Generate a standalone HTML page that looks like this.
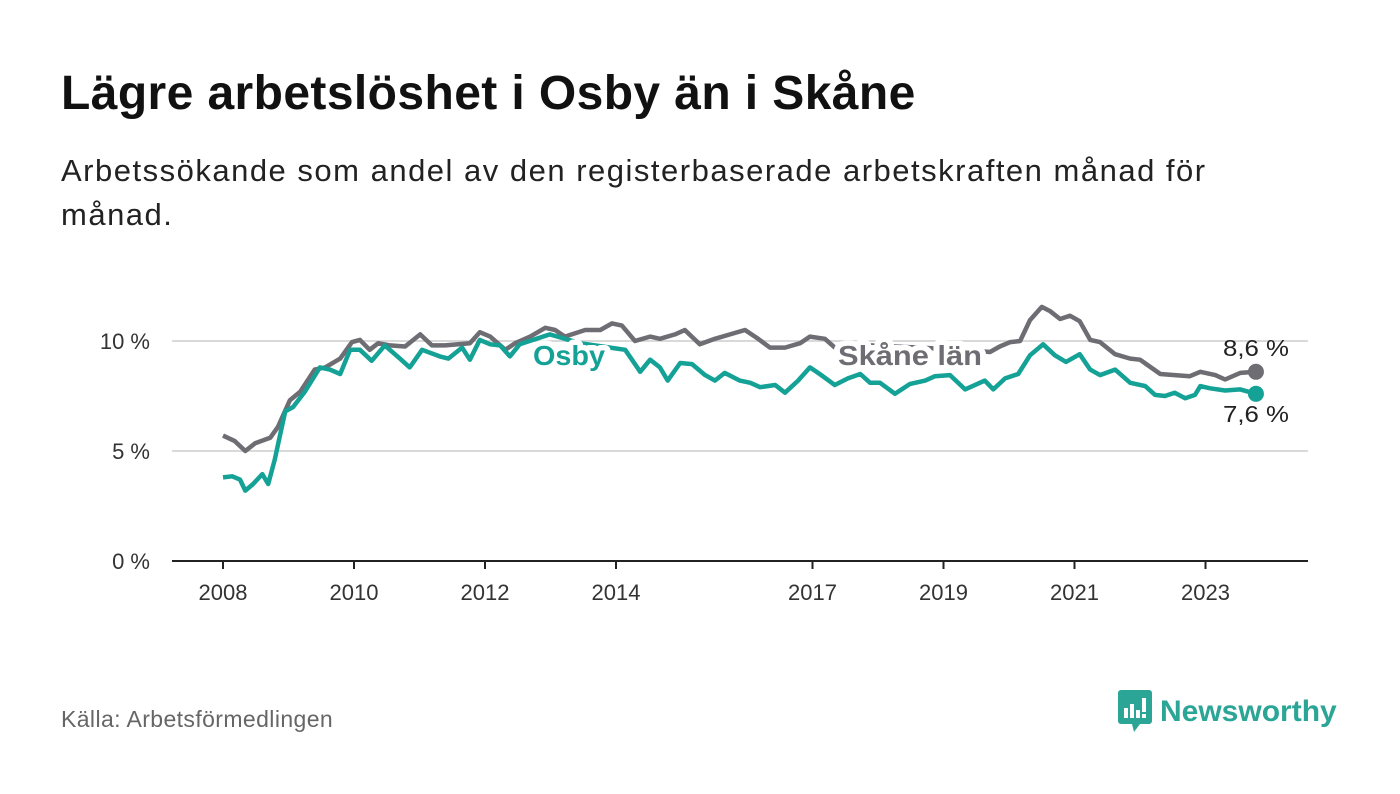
<!DOCTYPE html>
<html><head><meta charset="utf-8">
<style>
body{margin:0;background:#fff;width:1400px;height:794px;overflow:hidden;font-family:"Liberation Sans",sans-serif;color:#111}
h1{position:absolute;left:61px;top:66px;margin:0;font-size:48px;font-weight:bold;letter-spacing:0.4px}
.sub{position:absolute;left:61px;top:149px;width:1240px;font-size:31px;line-height:44px;color:#222;letter-spacing:1.5px}
.src{position:absolute;left:61px;top:706px;font-size:23px;color:#666;letter-spacing:0.4px}
.logo{position:absolute;left:1118px;top:690px;display:flex;align-items:center}
.logo span{font-size:30px;font-weight:bold;color:#2aa596;margin-left:8px}
svg#chart{position:absolute;left:0;top:0}
</style></head><body>
<h1>Lägre arbetslöshet i Osby än i Skåne</h1>
<div class="sub">Arbetssökande som andel av den registerbaserade arbetskraften månad för månad.</div>
<svg id="chart" width="1400" height="794"></svg>
<div class="src">Källa: Arbetsförmedlingen</div>
<div class="logo">
<svg width="34" height="44" viewBox="0 0 34 44"><rect x="0" y="0" width="34" height="34" rx="3" fill="#2aa596"/><polygon points="14,34 22,34 16,42" fill="#2aa596"/><rect x="6" y="18" width="4" height="10" fill="#fff"/><rect x="12" y="14" width="4" height="14" fill="#fff"/><rect x="18" y="20" width="4" height="8" fill="#fff"/><rect x="24" y="8" width="4" height="14" fill="#fff"/><rect x="24" y="24" width="4" height="4" fill="#fff"/></svg>
<span>Newsworthy</span></div>
<script>
const yTicks=[0,5,10];
const xTicks=[2008,2010,2012,2014,2017,2019,2021,2023];
const skaneDates=[2008.00,2008.18,2008.34,2008.49,2008.72,2008.84,2009.02,2009.18,2009.40,2009.56,2009.79,2009.97,2010.09,2010.24,2010.37,2010.55,2010.78,2011.01,2011.19,2011.39,2011.77,2011.92,2012.08,2012.31,2012.46,2012.69,2012.92,2013.07,2013.22,2013.53,2013.76,2013.94,2014.09,2014.29,2014.52,2014.67,2014.90,2015.05,2015.28,2015.51,2015.74,2015.97,2016.17,2016.35,2016.58,2016.81,2016.96,2017.19,2017.34,2017.88,2018.64,2019.25,2019.71,2019.86,2020.02,2020.17,2020.32,2020.50,2020.63,2020.78,2020.93,2021.08,2021.24,2021.39,2021.62,2021.85,2022.00,2022.31,2022.53,2022.76,2022.92,2023.15,2023.30,2023.53,2023.77];
const skaneValues=[5.7,5.45,5.0,5.35,5.6,6.1,7.3,7.7,8.7,8.8,9.2,9.95,10.05,9.6,9.9,9.8,9.75,10.3,9.8,9.8,9.9,10.4,10.2,9.6,9.9,10.2,10.6,10.5,10.2,10.5,10.5,10.8,10.7,10.0,10.2,10.1,10.3,10.5,9.85,10.1,10.3,10.5,10.1,9.7,9.7,9.9,10.2,10.1,9.7,9.8,9.7,9.6,9.5,9.75,9.95,10.0,10.95,11.55,11.35,11.0,11.15,10.9,10.05,9.95,9.4,9.2,9.15,8.5,8.45,8.4,8.6,8.45,8.25,8.55,8.6];
const osbyDates=[2008.00,2008.14,2008.26,2008.34,2008.46,2008.60,2008.69,2008.79,2008.95,2009.07,2009.25,2009.48,2009.63,2009.79,2009.94,2010.09,2010.27,2010.47,2010.70,2010.85,2011.04,2011.31,2011.44,2011.65,2011.77,2011.92,2012.08,2012.23,2012.38,2012.53,2012.99,2013.45,2013.91,2014.14,2014.37,2014.52,2014.67,2014.79,2014.98,2015.16,2015.36,2015.51,2015.66,2015.89,2016.05,2016.20,2016.43,2016.58,2016.78,2016.96,2017.11,2017.34,2017.54,2017.73,2017.88,2018.03,2018.26,2018.49,2018.72,2018.87,2019.10,2019.33,2019.63,2019.76,2019.94,2020.14,2020.32,2020.52,2020.70,2020.87,2021.08,2021.24,2021.39,2021.62,2021.85,2022.08,2022.23,2022.38,2022.53,2022.69,2022.84,2022.92,2023.07,2023.30,2023.53,2023.77];
const osbyValues=[3.8,3.85,3.7,3.2,3.5,3.95,3.5,4.6,6.8,7.0,7.7,8.8,8.7,8.5,9.6,9.6,9.1,9.8,9.2,8.8,9.6,9.3,9.2,9.7,9.15,10.05,9.85,9.8,9.3,9.85,10.3,9.9,9.7,9.6,8.6,9.15,8.8,8.2,9.0,8.95,8.45,8.2,8.55,8.2,8.1,7.9,8.0,7.65,8.2,8.8,8.5,8.0,8.3,8.5,8.1,8.1,7.6,8.05,8.2,8.4,8.45,7.8,8.2,7.8,8.3,8.5,9.35,9.85,9.35,9.05,9.4,8.7,8.45,8.7,8.1,7.95,7.55,7.5,7.65,7.4,7.55,7.95,7.85,7.75,7.8,7.6];
const NS="http://www.w3.org/2000/svg";
const svg=document.getElementById('chart');
const xS=t=>223+(t-2008)*65.5;
const yS=v=>561-v*22;
function mk(tag,attrs,parent){const e=document.createElementNS(NS,tag);for(const k in attrs)e.setAttribute(k,attrs[k]);(parent||svg).appendChild(e);return e;}
yTicks.forEach(v=>{
  if(v>0){const g=mk('line',{x1:172,x2:1308,y1:yS(v),y2:yS(v),stroke:'#d9d9d9','stroke-width':2});
  
  }
  const t=mk('text',{x:150,y:yS(v)+8,'text-anchor':'end','font-size':22,fill:'#333','font-family':'Liberation Sans, sans-serif'});
  t.textContent=v+' %';
  
  
});
const ax=mk('line',{x1:172,x2:1308,y1:561,y2:561,stroke:'#222','stroke-width':2});


xTicks.forEach(y=>{
  const tk=mk('line',{x1:xS(y),x2:xS(y),y1:561,y2:569,stroke:'#222','stroke-width':2});
  
  
  const t=mk('text',{x:xS(y),y:600,'text-anchor':'middle','font-size':22,fill:'#333','font-family':'Liberation Sans, sans-serif'});
  t.textContent=y;
  
  
});
function line(d,v,col,name){
  const p=mk('path',{d:d.map((t,i)=>(i?'L':'M')+xS(t).toFixed(1)+','+yS(v[i]).toFixed(1)).join(''),fill:'none',stroke:col,'stroke-width':4.5,'stroke-linejoin':'round'});
  
  
  const c=mk('circle',{cx:xS(d[d.length-1]),cy:yS(v[v.length-1]),r:8,fill:col});
  
  
}
line(skaneDates,skaneValues,'#6e6d73','skane-line');
line(osbyDates,osbyValues,'#14a196','osby-line');
function lab(x,y,txt,col,name,bold,w){
  const a={x:x,y:y,'font-size':bold?28:23,'font-weight':bold?'bold':'normal',fill:col,stroke:'#fff','stroke-width':bold?11:0,'paint-order':'stroke','stroke-linejoin':'round','font-family':'Liberation Sans, sans-serif'};
  if(w){a.textLength=w;a.lengthAdjust='spacingAndGlyphs';}
  const t=mk('text',a);
  t.textContent=txt;
  
  
}
lab(533,365,'Osby','#14a196','osby-label',true,72);
lab(838,365,'Skåne län','#6e6d73','skane-label',true,144);
lab(1223,356,'8,6 %','#222','skane-end-value',false,66);
lab(1223,422,'7,6 %','#222','osby-end-value',false,66);
</script>
</body></html>
